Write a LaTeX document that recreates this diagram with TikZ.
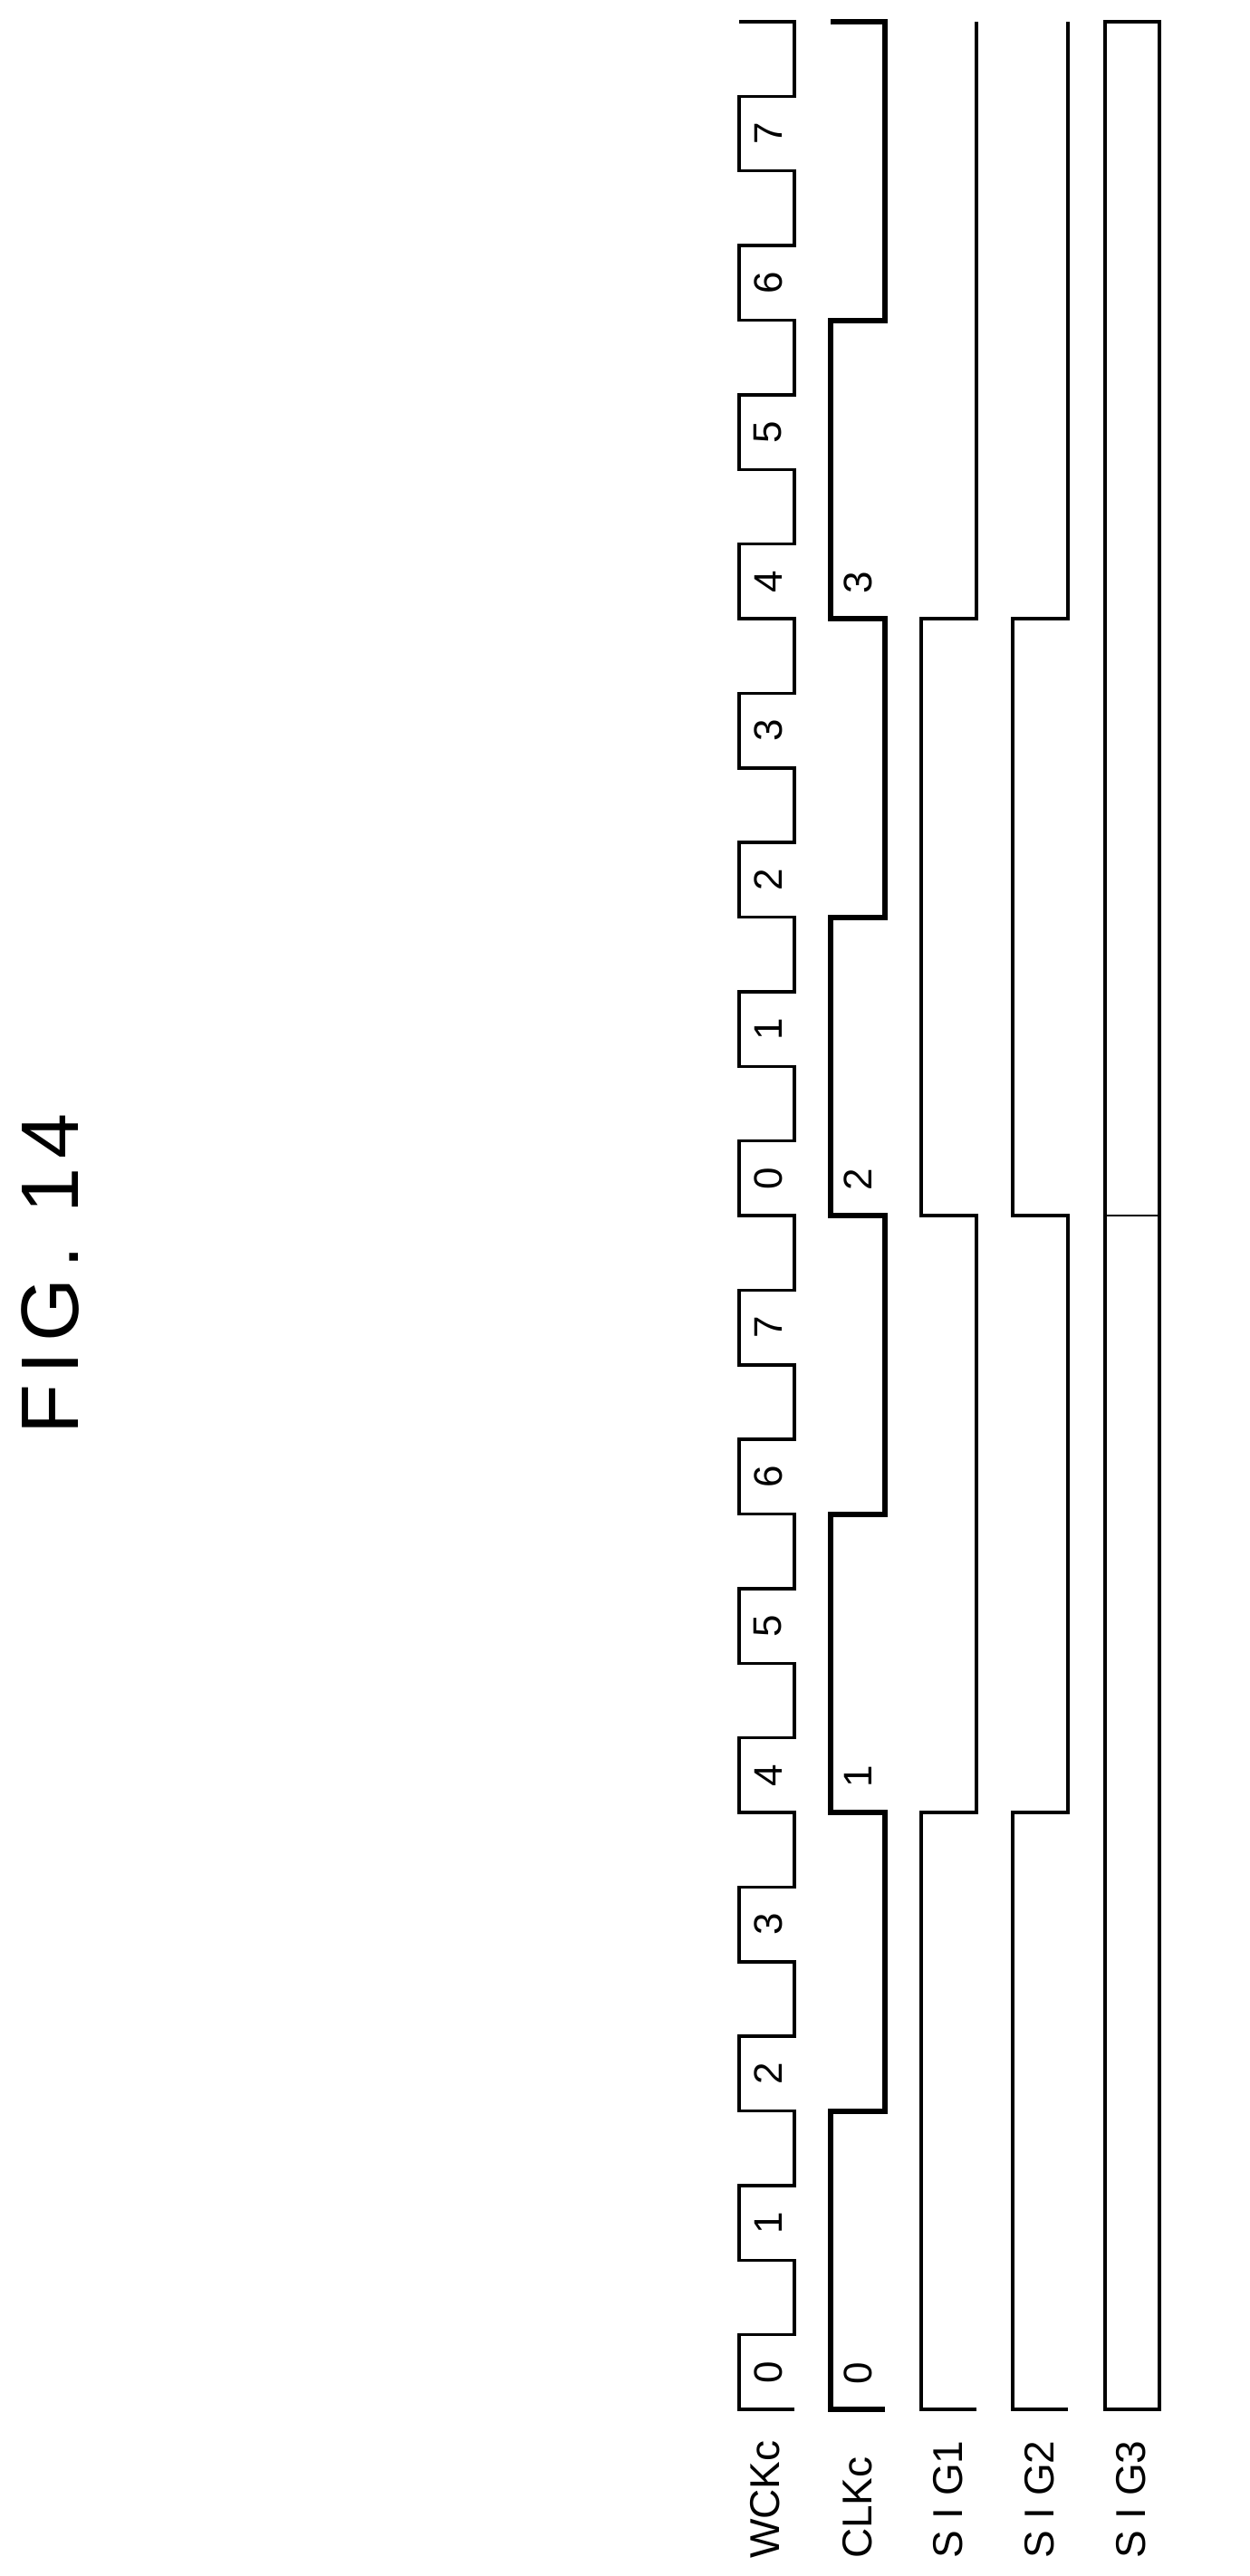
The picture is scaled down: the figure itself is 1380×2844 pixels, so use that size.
\documentclass[tikz,border=0pt]{standalone}
\usepackage{fontspec}
\setmainfont{Liberation Sans}
\newfontfamily\spacedfont[LetterSpace=12]{Liberation Sans}
\begin{document}
\begin{tikzpicture}[x=1pt,y=-1pt,
  wave/.style={line width=3.5pt,line join=miter},
  thickwave/.style={line width=6pt,line join=miter},
  lbl/.style={rotate=90,inner sep=0pt,font=\fontsize{46}{46}\selectfont},
  num/.style={rotate=90,inner sep=0pt,font=\fontsize{44}{44}\selectfont}]
\useasboundingbox (0,0) rectangle (1380,2844);
\def\h{82.375}
% title
\node[rotate=90,inner sep=0pt,font=\spacedfont\fontsize{90}{90}\selectfont] (title) at (56,1406) {FIG.\ 14};
% WCKc
\draw[wave] (877,2660) -- (816,2660)
  \foreach \k in {0,...,15} { -- (816,{2660-\h*(2*\k+1)}) -- (877,{2660-\h*(2*\k+1)}) -- (877,{2660-\h*(2*\k+2)}) -- (816,{2660-\h*(2*\k+2)}) };
\foreach \k/\n in {0/0,1/1,2/2,3/3,4/4,5/5,6/6,7/7,8/0,9/1,10/2,11/3,12/4,13/5,14/6,15/7}
  \node[num] (w\k) at (848,{2660-\h*(2*\k+0.5)}) {\n};
% CLKc
\draw[thickwave] (977,2660) -- (917,2660)
  \foreach \k in {0,...,3} { -- (917,{2660-\h*(8*\k+4)}) -- (977,{2660-\h*(8*\k+4)}) -- (977,{2660-\h*(8*\k+8)}) -- (917,{2660-\h*(8*\k+8)}) };
\foreach \k in {0,...,3}
  \node[num] (c\k) at (947,{2660-\h*8*\k-40}) {\k};
% SIG1, SIG2
\foreach \xa/\xb/\nm in {1017/1078/s1,1118/1179/s2}
  \draw[wave] (\xb,2660) -- (\xa,2660) -- (\xa,{2660-\h*8}) -- (\xb,{2660-\h*8}) -- (\xb,{2660-\h*16}) -- (\xa,{2660-\h*16}) -- (\xa,{2660-\h*24}) -- (\xb,{2660-\h*24}) -- (\xb,24);
% SIG3
\draw[wave] (1220,24) rectangle (1280,2660);
\draw[line width=2.5pt] (1220,{2660-\h*16}) -- (1280,{2660-\h*16});
% labels
\node[lbl,anchor=west] (lw) at (845,2825) {WCKc};
\node[lbl,anchor=west] (lc) at (947,2825) {CLKc};
\node[lbl,anchor=west] (l1) at (1047,2825) {S I G1};
\node[lbl,anchor=west] (l2) at (1148,2825) {S I G2};
\node[lbl,anchor=west] (l3) at (1249,2825) {S I G3};
\end{tikzpicture}
\end{document}
